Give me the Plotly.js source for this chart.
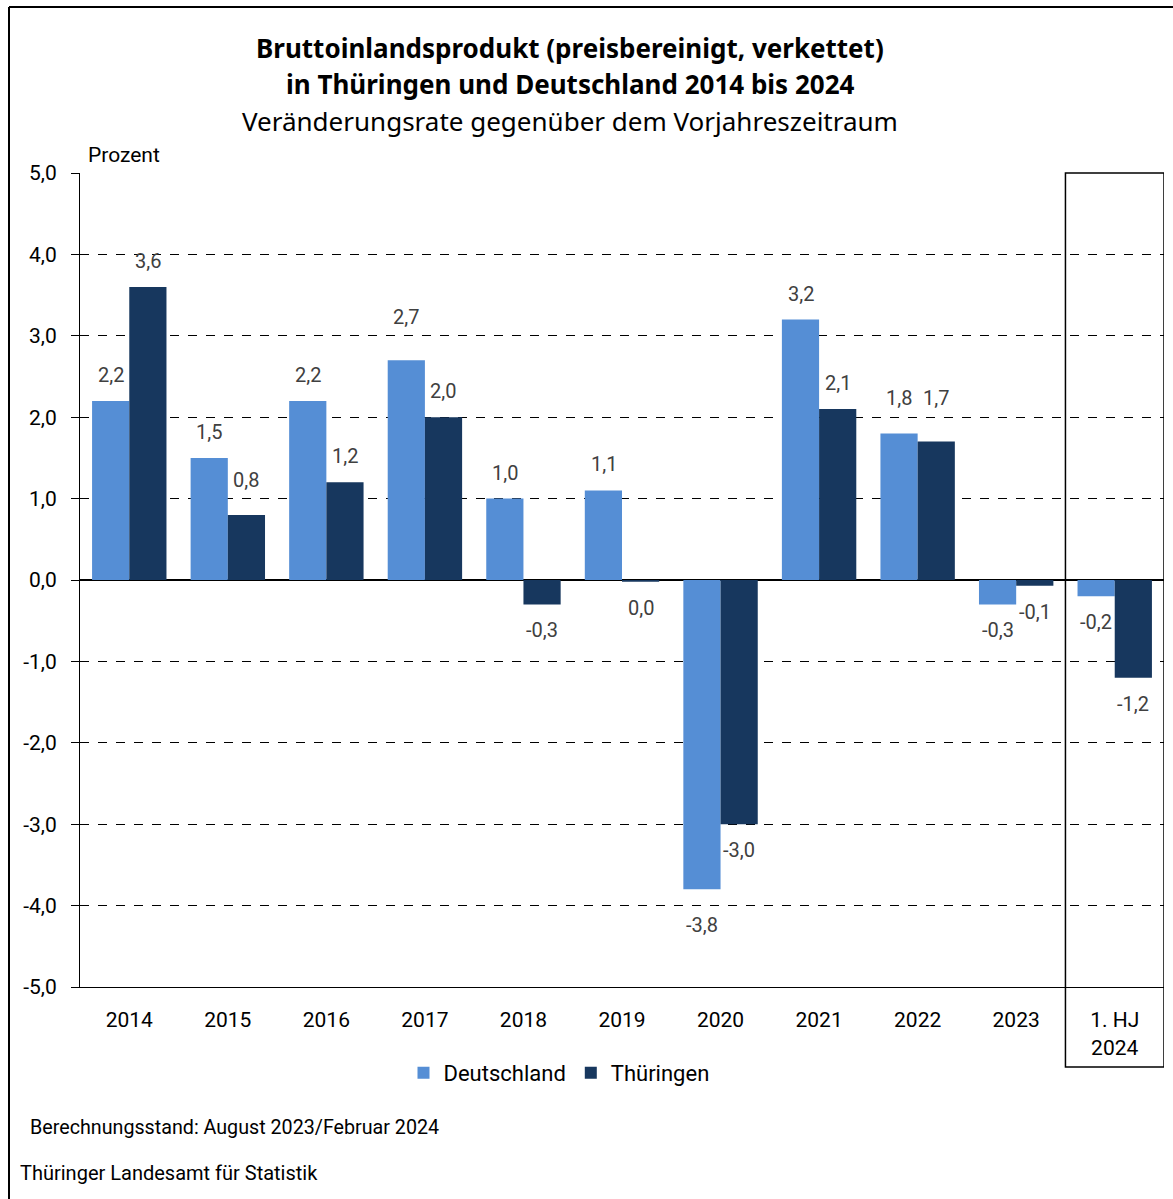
<!DOCTYPE html>
<html>
<head>
<meta charset="utf-8">
<script src="https://cdn.plot.ly/plotly-3.0.1.min.js"></script>
<style>html,body{margin:0;padding:0;background:#fff;}#chart{width:1173px;height:1199px;}</style>
</head>
<body>
<div id="chart"></div>
<script>
const categories = ["2014","2015","2016","2017","2018","2019","2020","2021","2022","2023","1. HJ<br>2024"];
const deutschland = [2.2, 1.5, 2.2, 2.7, 1.0, 1.1, -3.8, 3.2, 1.8, -0.3, -0.2];
const thueringen = [3.6, 0.8, 1.2, 2.0, -0.3, -0.02, -3.0, 2.1, 1.7, -0.07, -1.2];
const yTickVals = [-5, -4, -3, -2, -1, 0, 1, 2, 3, 4, 5];
const yTickText = ["-5,0","-4,0","-3,0","-2,0","-1,0","0,0","1,0","2,0","3,0","4,0","5,0"];

const FONT = "Roboto, 'Source Sans Pro', 'Noto Sans', sans-serif";
const TFONT = "'Noto Sans', 'Source Sans Pro', sans-serif";
const colD = "#558ED5";
const colT = "#17375E";

function fmt(v) {
  const r = Math.round(v * 10) / 10;
  if (r === 0) return "0,0";
  return r.toFixed(1).replace(".", ",");
}

const L = 80, R = 1164, T = 173, B = 987;
const px = x => (x - L) / (R - L);
const py = y => (B - y) / (B - T);
const pxPerUnit = (B - T) / 10;

// keep value labels clear of the dashed grid lines
function labelShift(v) {
  const base = 12, h = 18;
  const dir = v >= 0 ? 1 : -1;
  let shift = base;
  for (let g = -5; g <= 5; g++) {
    if (g === 0) continue;
    const d = (g - v) * dir * pxPerUnit;
    if (d > base - 3 && d < base + h) shift = Math.max(shift, d + 5);
  }
  return dir * shift;
}

const traces = [
  {type: "bar", name: "Deutschland", x: categories, y: deutschland, marker: {color: colD}, hoverinfo: "none"},
  {type: "bar", name: "Thüringen", x: categories, y: thueringen, marker: {color: colT}, hoverinfo: "none"}
];

const annotations = [];
const offs = [-1, 1];
[deutschland, thueringen].forEach((arr, s) => {
  arr.forEach((v, i) => {
    annotations.push({
      xref: "x", yref: "y", x: i, y: v,
      xshift: offs[s] * 18.5,
      yshift: labelShift(v),
      yanchor: v >= 0 ? "bottom" : "top",
      text: fmt(v), showarrow: false,
      font: {family: FONT, size: 20, color: "#404040"}
    });
  });
});

annotations.push(
  {xref: "paper", yref: "paper", x: px(570), y: py(48), xanchor: "center", yanchor: "middle", showarrow: false,
   text: "<b>Bruttoinlandsprodukt (preisbereinigt, verkettet)</b>", font: {family: TFONT, size: 26, color: "#000"}},
  {xref: "paper", yref: "paper", x: px(570), y: py(84), xanchor: "center", yanchor: "middle", showarrow: false,
   text: "<b>in Thüringen und Deutschland 2014 bis 2024</b>", font: {family: TFONT, size: 26, color: "#000"}},
  {xref: "paper", yref: "paper", x: px(570), y: py(121), xanchor: "center", yanchor: "middle", showarrow: false,
   text: "Veränderungsrate gegenüber dem Vorjahreszeitraum", font: {family: TFONT, size: 26, color: "#000"}},
  {xref: "paper", yref: "paper", x: px(86), y: py(155), xanchor: "left", yanchor: "middle", showarrow: false,
   text: "Prozent", font: {family: FONT, size: 21, color: "#000"}},
  {xref: "paper", yref: "paper", x: px(28), y: py(1127), xanchor: "left", yanchor: "middle", showarrow: false,
   text: "Berechnungsstand: August 2023/Februar 2024", font: {family: FONT, size: 19.7, color: "#000"}},
  {xref: "paper", yref: "paper", x: px(18), y: py(1173), xanchor: "left", yanchor: "middle", showarrow: false,
   text: "Thüringer Landesamt für Statistik", font: {family: FONT, size: 20, color: "#000"}}
);

const shapes = [
  {type: "rect", xref: "x", yref: "paper", x0: 9.5, x1: 10.5, y0: py(1067), y1: 1,
   line: {color: "#000", width: 1.5}, fillcolor: "rgba(0,0,0,0)", layer: "above"},
  {type: "line", xref: "paper", yref: "paper", x0: px(9), x1: px(1173), y0: py(7), y1: py(7),
   line: {color: "#000", width: 2}},
  {type: "line", xref: "paper", yref: "paper", x0: px(9), x1: px(9), y0: py(7), y1: py(1199),
   line: {color: "#000", width: 2}}
];

const layout = {
  width: 1173, height: 1199,
  margin: {l: L, r: 1173 - R, t: T, b: 1199 - B, pad: 0},
  paper_bgcolor: "#fff", plot_bgcolor: "#fff",
  font: {family: FONT, size: 20, color: "#000"},
  barmode: "group", bargap: 0.245, bargroupgap: 0,
  showlegend: true,
  legend: {orientation: "h", x: px(559), xanchor: "center", y: py(1073), yanchor: "middle",
           font: {family: FONT, size: 22, color: "#000"}, itemclick: false, tracegroupgap: 0},
  xaxis: {
    type: "category", range: [-0.5, categories.length - 0.5],
    showline: true, linecolor: "#000", linewidth: 1, mirror: false,
    ticks: "", showgrid: false, ticklabelstandoff: 14,
    tickfont: {family: FONT, size: 21, color: "#000"},
    fixedrange: true
  },
  yaxis: {
    range: [-5, 5], tickvals: yTickVals, ticktext: yTickText,
    showline: true, linecolor: "#000", linewidth: 1,
    ticks: "outside", ticklen: 8, tickcolor: "#000", tickwidth: 1, ticklabelstandoff: 10,
    showgrid: true, gridcolor: "#000", gridwidth: 1, griddash: "dash",
    zeroline: true, zerolinecolor: "#000", zerolinewidth: 1.5,
    tickfont: {family: FONT, size: 21, color: "#000"}, fixedrange: true
  },
  annotations: annotations,
  shapes: shapes
};

Plotly.newPlot("chart", traces, layout, {displayModeBar: false, staticPlot: true});
</script>
</body>
</html>
